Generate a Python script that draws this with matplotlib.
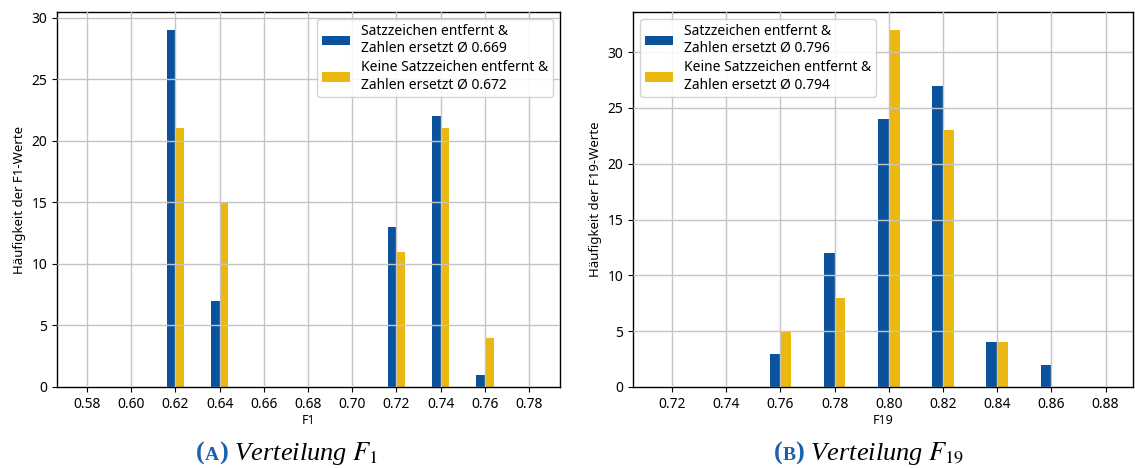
import matplotlib

matplotlib.use("Agg")
import matplotlib.pyplot as plt
import numpy as np

plt.rcParams["font.family"] = ["Noto Sans", "DejaVu Sans"]
plt.rcParams["mathtext.fontset"] = "stix"

BLUE = "#0b529c"
YELLOW = "#eab80e"
CAPTION_BLUE = "#1a5fb0"
BAR_W = 0.004

# F1 distribution
f1_bins = [0.62, 0.64, 0.72, 0.74, 0.76]
f1_removed = [29, 7, 13, 22, 1]
f1_kept = [21, 15, 11, 21, 4]
f1_ticks = [0.58, 0.60, 0.62, 0.64, 0.66, 0.68, 0.70, 0.72, 0.74, 0.76, 0.78]
f1_labels = ["Satzzeichen entfernt &\nZahlen ersetzt Ø 0.669",
             "Keine Satzzeichen entfernt &\nZahlen ersetzt Ø 0.672"]

# F19 distribution
f19_bins = [0.76, 0.78, 0.80, 0.82, 0.84, 0.86]
f19_removed = [3, 12, 24, 27, 4, 2]
f19_kept = [5, 8, 32, 23, 4, 0]
f19_ticks = [0.72, 0.74, 0.76, 0.78, 0.80, 0.82, 0.84, 0.86, 0.88]
f19_labels = ["Satzzeichen entfernt &\nZahlen ersetzt Ø 0.796",
              "Keine Satzzeichen entfernt &\nZahlen ersetzt Ø 0.794"]

W, H = 1135, 468
fig = plt.figure(figsize=(W / 100, H / 100), dpi=100)


def px_axes(left, top, right, bottom):
    return fig.add_axes([left / W, 1 - bottom / H, (right - left) / W, (bottom - top) / H])


def draw_hist(ax, bins, removed, kept, labels, ticks, xlim, name, loc):
    x = np.array(bins)
    ax.bar(x - BAR_W, removed, width=BAR_W, align="edge", color=BLUE, label=labels[0])
    ax.bar(x, kept, width=BAR_W, align="edge", color=YELLOW, label=labels[1])
    ax.set_xlim(*xlim)
    ax.set_ylim(0, max(max(removed), max(kept)) * 1.05)
    ax.set_xticks(ticks)
    ax.set_xticklabels([f"{t:.2f}" for t in ticks])
    ax.set_yticks(range(0, 31, 5))
    ax.tick_params(labelsize=10)
    ax.grid(True, color="#c4c4c4", lw=1.0)
    ax.set_axisbelow(False)
    ax.set_xlabel(name, fontsize=9, labelpad=2)
    ax.set_ylabel(f"Häufigkeit der {name}-Werte", fontsize=9.5)
    ax.legend(loc=loc, fontsize=10, handlelength=2.0, labelspacing=0.3,
              borderpad=0.35, framealpha=0.85)
    for s in ax.spines.values():
        s.set_linewidth(1.0)


ax1 = px_axes(57, 12, 560, 387)
draw_hist(ax1, f1_bins, f1_removed, f1_kept, f1_labels, f1_ticks,
          (0.5664, 0.794), "F1", "upper right")

ax2 = px_axes(633, 12, 1133, 387)
draw_hist(ax2, f19_bins, f19_removed, f19_kept, f19_labels, f19_ticks,
          (0.7056, 0.8901), "F19", "upper left")


def caption(xc, y, letter, sub):
    """Subfigure caption: blue '(a)' in small caps, then italic title."""
    renderer = fig.canvas.get_renderer()
    pieces = [
        ("(", dict(color=CAPTION_BLUE, fontsize=19, family="Liberation Serif", weight="bold")),
        (letter, dict(color=CAPTION_BLUE, fontsize=14, family="Liberation Serif", weight="bold")),
        (")", dict(color=CAPTION_BLUE, fontsize=19, family="Liberation Serif", weight="bold")),
        (" Verteilung $F_{" + sub + "}$",
         dict(color="black", fontsize=19, family="Liberation Serif", style="italic")),
    ]
    texts = []
    x = 0
    for s, kw in pieces:
        t = fig.text(x / W, y / H, s, ha="left", va="baseline", **kw)
        x += t.get_window_extent(renderer).width
        texts.append(t)
    shift = xc - x / 2
    for t in texts:
        px, py = t.get_position()
        t.set_position((px + shift / W, py))


caption(287, 468 - 460, "A", "1")
caption(869, 468 - 460, "B", "19")

fig.savefig("out.png", dpi=100)
